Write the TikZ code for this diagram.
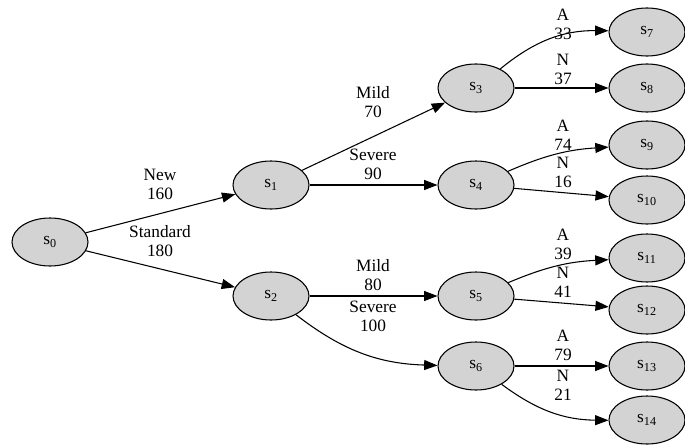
\documentclass[tikz,border=0pt]{standalone}
\usepackage{fontspec}
\setmainfont{Liberation Serif}
\usetikzlibrary{shapes.geometric,arrows.meta}
\tikzset{
  st/.style={ellipse, draw=black, line width=0.8pt, fill={rgb,255:red,211;green,211;blue,211},
    minimum width=57pt, minimum height=36pt, inner sep=0pt,
    font=\fontsize{13}{14}\selectfont},
  lab/.style={align=center, inner sep=0pt, font=\fontsize{13}{14.25}\selectfont},
  edge/.style={line width=0.8pt, -{Triangle[length=10pt, width=7.5pt]}}
}
\begin{document}
\begin{tikzpicture}[x=0.75pt, y=-0.75pt]
\useasboundingbox (0,0) rectangle (685,446);
\node[st] (s0) at (50,242) {s\textsubscript{0}};
\node[st] (s1) at (271,185) {s\textsubscript{1}};
\node[st] (s2) at (271,296) {s\textsubscript{2}};
\node[st] (s3) at (476,88) {s\textsubscript{3}};
\node[st] (s4) at (476,185) {s\textsubscript{4}};
\node[st] (s5) at (476,296) {s\textsubscript{5}};
\node[st] (s6) at (476,366) {s\textsubscript{6}};
\node[st] (s7) at (647,32) {s\textsubscript{7}};
\node[st] (s8) at (647,88) {s\textsubscript{8}};
\node[st] (s9) at (647,145) {s\textsubscript{9}};
\node[st] (s10) at (647,200) {s\textsubscript{10}};
\node[st] (s11) at (647,258) {s\textsubscript{11}};
\node[st] (s12) at (647,310) {s\textsubscript{12}};
\node[st] (s13) at (647,366) {s\textsubscript{13}};
\node[st] (s14) at (647,420) {s\textsubscript{14}};

\draw[edge] (s0) -- (s1);
\draw[edge] (s0) -- (s2);
\draw[edge] (s1) -- (s3);
\draw[edge] (s1) -- (s4);
\draw[edge] (s2) -- (s5);
\draw[edge] (s2) to[bend right=18] (s6);
\draw[edge] (s3) to[bend left=20] (s7);
\draw[edge] (s3) -- (s8);
\draw[edge] (s4) to[bend left=10] (s9);
\draw[edge] (s4) -- (s10);
\draw[edge] (s5) to[bend left=10] (s11);
\draw[edge] (s5) -- (s12);
\draw[edge] (s6) -- (s13);
\draw[edge] (s6) to[bend right=18] (s14);

\node[lab] (l01) at (160,184) {New\\160};
\node[lab] (l02) at (160,241) {Standard\\180};
\node[lab] (l13) at (373,102) {Mild\\70};
\node[lab] (l14) at (373,164) {Severe\\90};
\node[lab] (l25) at (373,275) {Mild\\80};
\node[lab] (l26) at (373,316) {Severe\\100};
\node[lab] (l37) at (563,24) {A\\33};
\node[lab] (l38) at (563,69) {N\\37};
\node[lab] (l49) at (563,135) {A\\74};
\node[lab] (l410) at (563,172) {N\\16};
\node[lab] (l511) at (563,244) {A\\39};
\node[lab] (l512) at (563,282) {N\\41};
\node[lab] (l613) at (563,345) {A\\79};
\node[lab] (l614) at (563,385) {N\\21};
\end{tikzpicture}
\end{document}
